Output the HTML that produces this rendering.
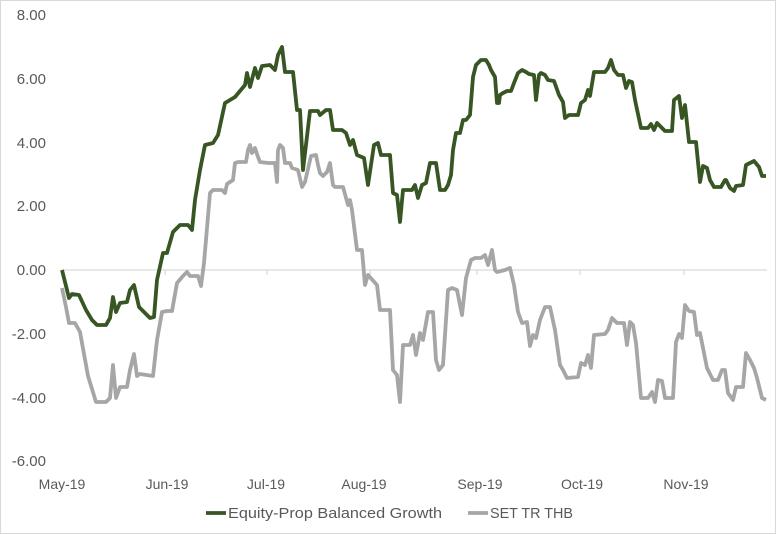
<!DOCTYPE html>
<html><head><meta charset="utf-8"><style>
body{margin:0;background:#fff;}
svg{display:block;font-family:"Liberation Sans",Arial,sans-serif;}
</style></head><body>
<svg width="776" height="534" viewBox="0 0 776 534">
<rect x="0.5" y="0.5" width="775" height="533" fill="#fff" stroke="#d9d9d9"/>
<g fill="#595959" font-size="15" text-anchor="end">
<text x="46" y="20">8.00</text>
<text x="46" y="84">6.00</text>
<text x="46" y="148">4.00</text>
<text x="46" y="211">2.00</text>
<text x="46" y="275">0.00</text>
<text x="46" y="339">-2.00</text>
<text x="46" y="403">-4.00</text>
<text x="46" y="466">-6.00</text>
</g>
<line x1="62" y1="270" x2="767" y2="270" stroke="#d0d0d0" stroke-width="1"/>
<g stroke="#d0d0d0">
<line x1="62" y1="270" x2="62" y2="275"/><line x1="165" y1="270" x2="165" y2="275"/>
<line x1="267" y1="270" x2="267" y2="275"/><line x1="370" y1="270" x2="370" y2="275"/>
<line x1="477" y1="270" x2="477" y2="275"/><line x1="580" y1="270" x2="580" y2="275"/>
<line x1="684" y1="270" x2="684" y2="275"/>
</g>
<g fill="#595959" font-size="14" text-anchor="middle">
<text x="62" y="489">May-19</text>
<text x="167" y="489">Jun-19</text>
<text x="266" y="489">Jul-19</text>
<text x="364" y="489">Aug-19</text>
<text x="480" y="489">Sep-19</text>
<text x="582" y="489">Oct-19</text>
<text x="686" y="489">Nov-19</text>
</g>
<polyline fill="none" stroke="#a6a6a6" stroke-width="3.8" stroke-linejoin="round" points="62,288 66,307 69,323 75,323 80,332 88,376 96,402 106,402 110,398 113,365 116,398 120,387 127,387 130,370 134,354 137,376 140,374 153,376 157,340 162,312 167,311 172,311 177,283 183,276 187,272 190,276 198,276 201,286 204,263 210,193 213,190 222,190 225,193 227,184 233,180 235,163 238,162 246,162 248,150 250,145 252,153 255,148 258,157 260,162 268,163 275,163 277,182 278,150 280,145 283,148 285,163 290,163 292,168 298,170 302,187 305,182 311,156 316,155 318,165 320,173 323,176 327,172 330,163 333,185 335,187 343,187 348,205 350,200 352,210 357,250 362,250 365,285 368,275 377,285 380,310 390,310 393,370 397,375 400,402 403,345 410,345 413,335 416,355 420,333 423,340 428,312 433,312 436,360 439,370 443,365 448,290 452,288 457,290 462,315 466,278 471,260 475,258 481,258 485,255 488,265 492,250 495,270 497,272 505,270 510,268 514,285 518,312 522,323 527,322 530,346 533,335 536,338 540,320 545,307 550,307 555,330 560,365 563,370 567,378 578,377 581,363 585,365 588,355 591,368 594,335 605,334 608,330 612,318 617,323 624,323 627,345 630,322 633,325 636,343 641,398 648,398 652,392 655,402 658,380 662,381 665,398 673,398 676,342 679,334 682,338 685,305 689,311 694,312 697,335 700,333 707,368 713,380 718,380 722,370 725,370 728,393 733,400 736,387 743,387 746,353 750,360 754,368 757,378 762,398 766,400"/>
<polyline fill="none" stroke="#375623" stroke-width="3.8" stroke-linejoin="round" points="62,270 69,298 72,294 79,295 86,310 92,320 97,325 106,325 110,318 113,297 116,312 120,303 127,302 130,290 134,285 139,307 150,318 154,317 157,280 163,253 167,253 173,232 180,225 188,225 192,230 195,200 200,170 205,145 213,143 218,135 225,103 235,97 245,85 247,73 250,87 255,68 258,78 262,66 270,65 275,70 278,55 282,47 285,72 293,72 297,110 300,110 303,170 310,111 318,111 320,115 326,110 330,110 333,130 342,130 346,133 350,145 353,140 357,155 364,158 368,185 374,145 378,143 381,155 390,155 393,193 397,195 400,222 403,190 412,190 415,185 418,198 422,185 426,183 430,163 436,163 440,190 445,190 448,185 451,175 453,150 456,133 460,133 463,120 466,120 470,115 473,77 476,65 481,60 486,60 489,65 491,70 495,77 497,103 499,103 500,95 503,93 507,91 511,91 514,83 518,73 522,70 526,72 529,74 534,75 536,100 539,75 541,73 545,75 548,80 554,81 559,95 563,102 565,118 569,115 578,115 581,103 585,100 588,90 590,96 594,72 605,72 608,68 611,60 614,70 618,75 623,75 626,88 629,81 632,82 635,100 641,128 648,128 651,124 654,130 657,123 662,128 665,131 672,131 674,100 679,96 682,118 685,105 689,142 696,142 700,182 703,166 707,168 710,180 714,187 721,187 725,180 726,180 730,188 734,191 736,186 743,185 746,165 754,161 759,167 762,176 766,176"/>
<line x1="206" y1="513" x2="226" y2="513" stroke="#375623" stroke-width="3.8"/>
<text x="228" y="518" fill="#595959" font-size="15" textLength="214" lengthAdjust="spacingAndGlyphs">Equity-Prop Balanced Growth</text>
<line x1="468" y1="513" x2="488" y2="513" stroke="#a6a6a6" stroke-width="3.8"/>
<text x="490" y="518" fill="#595959" font-size="15" textLength="83" lengthAdjust="spacingAndGlyphs">SET TR THB</text>
</svg>
</body></html>
